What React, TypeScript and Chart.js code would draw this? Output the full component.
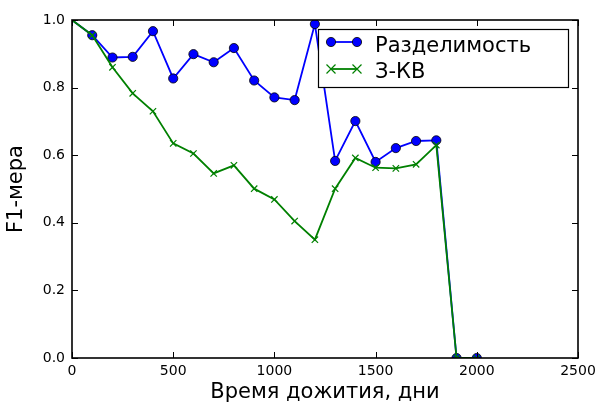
import React, { useEffect, useRef } from "react";
import { Chart, registerables } from "chart.js";

Chart.register(...registerables);

const days = [0, 100, 200, 300, 400, 500, 600, 700, 800, 900, 1000, 1100, 1200, 1300, 1400, 1500, 1600, 1700, 1800, 1900, 2000];
const separability = [1.0, 0.955, 0.889, 0.891, 0.967, 0.827, 0.899, 0.875, 0.917, 0.821, 0.771, 0.763, 0.988, 0.583, 0.701, 0.58, 0.621, 0.642, 0.644, 0.0, 0.0];
const zkv = [1.0, 0.955, 0.86, 0.783, 0.73, 0.635, 0.605, 0.546, 0.57, 0.501, 0.469, 0.405, 0.35, 0.501, 0.592, 0.563, 0.561, 0.573, 0.63, 0.0, 0.0];
const seriesNames = ["Разделимость", "З-КВ"];
const xTicks = [0, 500, 1000, 1500, 2000, 2500];
const xTickLabels = ["0", "500", "1000", "1500", "2000", "2500"];
const yTicks = [0, 0.2, 0.4, 0.6, 0.8, 1.0];
const yTickLabels = ["0.0", "0.2", "0.4", "0.6", "0.8", "1.0"];
const xTitle = "Время дожития, дни";
const yTitle = "F1-мера";

const FONT = "'DejaVu Sans', sans-serif";
const BLUE = "#0000ff";
const GREEN = "#008000";

const framePlugin = {
  id: "framePlugin",
  afterDraw(chart: any) {
    const ctx = chart.ctx;
    const { left, right, top, bottom } = chart.chartArea;
    const xs = chart.scales.x;
    const ys = chart.scales.y;
    ctx.save();
    // inward ticks
    ctx.strokeStyle = "#000";
    ctx.lineWidth = 1;
    const tl = 6;
    ctx.beginPath();
    xTicks.forEach((v) => {
      const px = Math.round(xs.getPixelForValue(v)) + 0.5;
      ctx.moveTo(px, bottom);
      ctx.lineTo(px, bottom - tl);
      ctx.moveTo(px, top);
      ctx.lineTo(px, top + tl);
    });
    yTicks.forEach((v) => {
      const py = Math.round(ys.getPixelForValue(v)) + 0.5;
      ctx.moveTo(left, py);
      ctx.lineTo(left + tl, py);
      ctx.moveTo(right, py);
      ctx.lineTo(right - tl, py);
    });
    ctx.stroke();
    // frame
    ctx.lineWidth = 1.6;
    ctx.strokeRect(left, top, right - left, bottom - top);

    // legend
    const bx = 318.5, by = 29.5, bw = 250, bh = 58;
    ctx.fillStyle = "#fff";
    ctx.fillRect(bx, by, bw, bh);
    ctx.lineWidth = 1.2;
    ctx.strokeStyle = "#000";
    ctx.strokeRect(bx, by, bw, bh);
    const x1 = 331, x2 = 357;
    const rows = [42, 69];
    // row 1
    ctx.strokeStyle = BLUE;
    ctx.lineWidth = 1.8;
    ctx.beginPath();
    ctx.moveTo(x1, rows[0]);
    ctx.lineTo(x2, rows[0]);
    ctx.stroke();
    [x1, x2].forEach((cx) => {
      ctx.beginPath();
      ctx.arc(cx, rows[0], 4.6, 0, Math.PI * 2);
      ctx.fillStyle = BLUE;
      ctx.fill();
      ctx.lineWidth = 0.8;
      ctx.strokeStyle = "#000";
      ctx.stroke();
    });
    // row 2
    ctx.strokeStyle = GREEN;
    ctx.lineWidth = 1.8;
    ctx.beginPath();
    ctx.moveTo(x1, rows[1]);
    ctx.lineTo(x2, rows[1]);
    ctx.stroke();
    ctx.lineWidth = 1.2;
    [x1, x2].forEach((cx) => {
      const r = 4.5;
      ctx.beginPath();
      ctx.moveTo(cx - r, rows[1] - r);
      ctx.lineTo(cx + r, rows[1] + r);
      ctx.moveTo(cx - r, rows[1] + r);
      ctx.lineTo(cx + r, rows[1] - r);
      ctx.stroke();
    });
    ctx.fillStyle = "#000";
    ctx.font = `21px ${FONT}`;
    ctx.textBaseline = "alphabetic";
    ctx.textAlign = "left";
    ctx.fillText(seriesNames[0], 375, 52);
    ctx.fillText(seriesNames[1], 375, 78);
    ctx.restore();
  },
};

export default function App() {
  const ref = useRef<HTMLCanvasElement | null>(null);
  useEffect(() => {
    document.body.style.margin = "0";
    const canvas = ref.current;
    if (!canvas) return;
    const chart = new Chart(canvas, {
      type: "line",
      data: {
        datasets: [
          {
            label: seriesNames[0],
            data: days.map((d, i) => ({ x: d, y: separability[i] })),
            borderColor: BLUE,
            backgroundColor: BLUE,
            borderWidth: 1.8,
            pointRadius: (c: any) => (c.dataIndex === 0 ? 0 : 4.6),
            pointBackgroundColor: BLUE,
            pointBorderColor: "#000",
            pointBorderWidth: 0.8,
            pointStyle: "circle",
            tension: 0,
            clip: 0,
            order: 2,
          } as any,
          {
            label: seriesNames[1],
            data: days.map((d, i) => ({ x: d, y: zkv[i] })),
            borderColor: GREEN,
            backgroundColor: GREEN,
            borderWidth: 1.8,
            pointRadius: (c: any) => (c.dataIndex === 0 ? 0 : 4.5),
            pointBorderColor: GREEN,
            pointBorderWidth: 1.2,
            pointStyle: "crossRot",
            tension: 0,
            clip: 0,
            order: 1,
          } as any,
        ],
      },
      options: {
        animation: false,
        responsive: false,
        events: [],
        layout: { padding: { top: 20, right: 25, left: 0, bottom: 0 } },
        plugins: { legend: { display: false }, tooltip: { enabled: false } },
        scales: {
          x: {
            type: "linear",
            min: 0,
            max: 2500,
            afterFit: (s: any) => {
              s.height = 47;
            },
            afterBuildTicks: (s: any) => {
              s.ticks = xTicks.map((v) => ({ value: v }));
            },
            grid: { display: false, drawTicks: false },
            border: { display: false },
            ticks: {
              padding: 5,
              color: "#000",
              font: { family: FONT, size: 14 },
              maxRotation: 0,
              autoSkip: false,
              callback: (v: any) => {
                const i = xTicks.indexOf(Number(v));
                return i >= 0 ? xTickLabels[i] : "";
              },
            },
            title: {
              display: true,
              text: xTitle,
              color: "#000",
              font: { family: FONT, size: 21 },
              padding: { top: 0, bottom: 0 },
            },
          },
          y: {
            type: "linear",
            min: 0,
            max: 1,
            afterFit: (s: any) => {
              s.width = 72;
            },
            afterBuildTicks: (s: any) => {
              s.ticks = yTicks.map((v) => ({ value: v }));
            },
            grid: { display: false, drawTicks: false },
            border: { display: false },
            ticks: {
              padding: 7,
              color: "#000",
              font: { family: FONT, size: 14 },
              autoSkip: false,
              callback: (v: any) => {
                const i = yTicks.findIndex((t) => Math.abs(t - Number(v)) < 1e-9);
                return i >= 0 ? yTickLabels[i] : "";
              },
            },
            title: {
              display: true,
              text: yTitle,
              color: "#000",
              font: { family: FONT, size: 21 },
              padding: { top: 4, bottom: 0 },
            },
          },
        },
      },
      plugins: [framePlugin],
    } as any);
    return () => chart.destroy();
  }, []);
  return (
    <div style={{ width: 603, height: 405 }}>
      <canvas ref={ref} width={603} height={405} style={{ display: "block" }} />
    </div>
  );
}
